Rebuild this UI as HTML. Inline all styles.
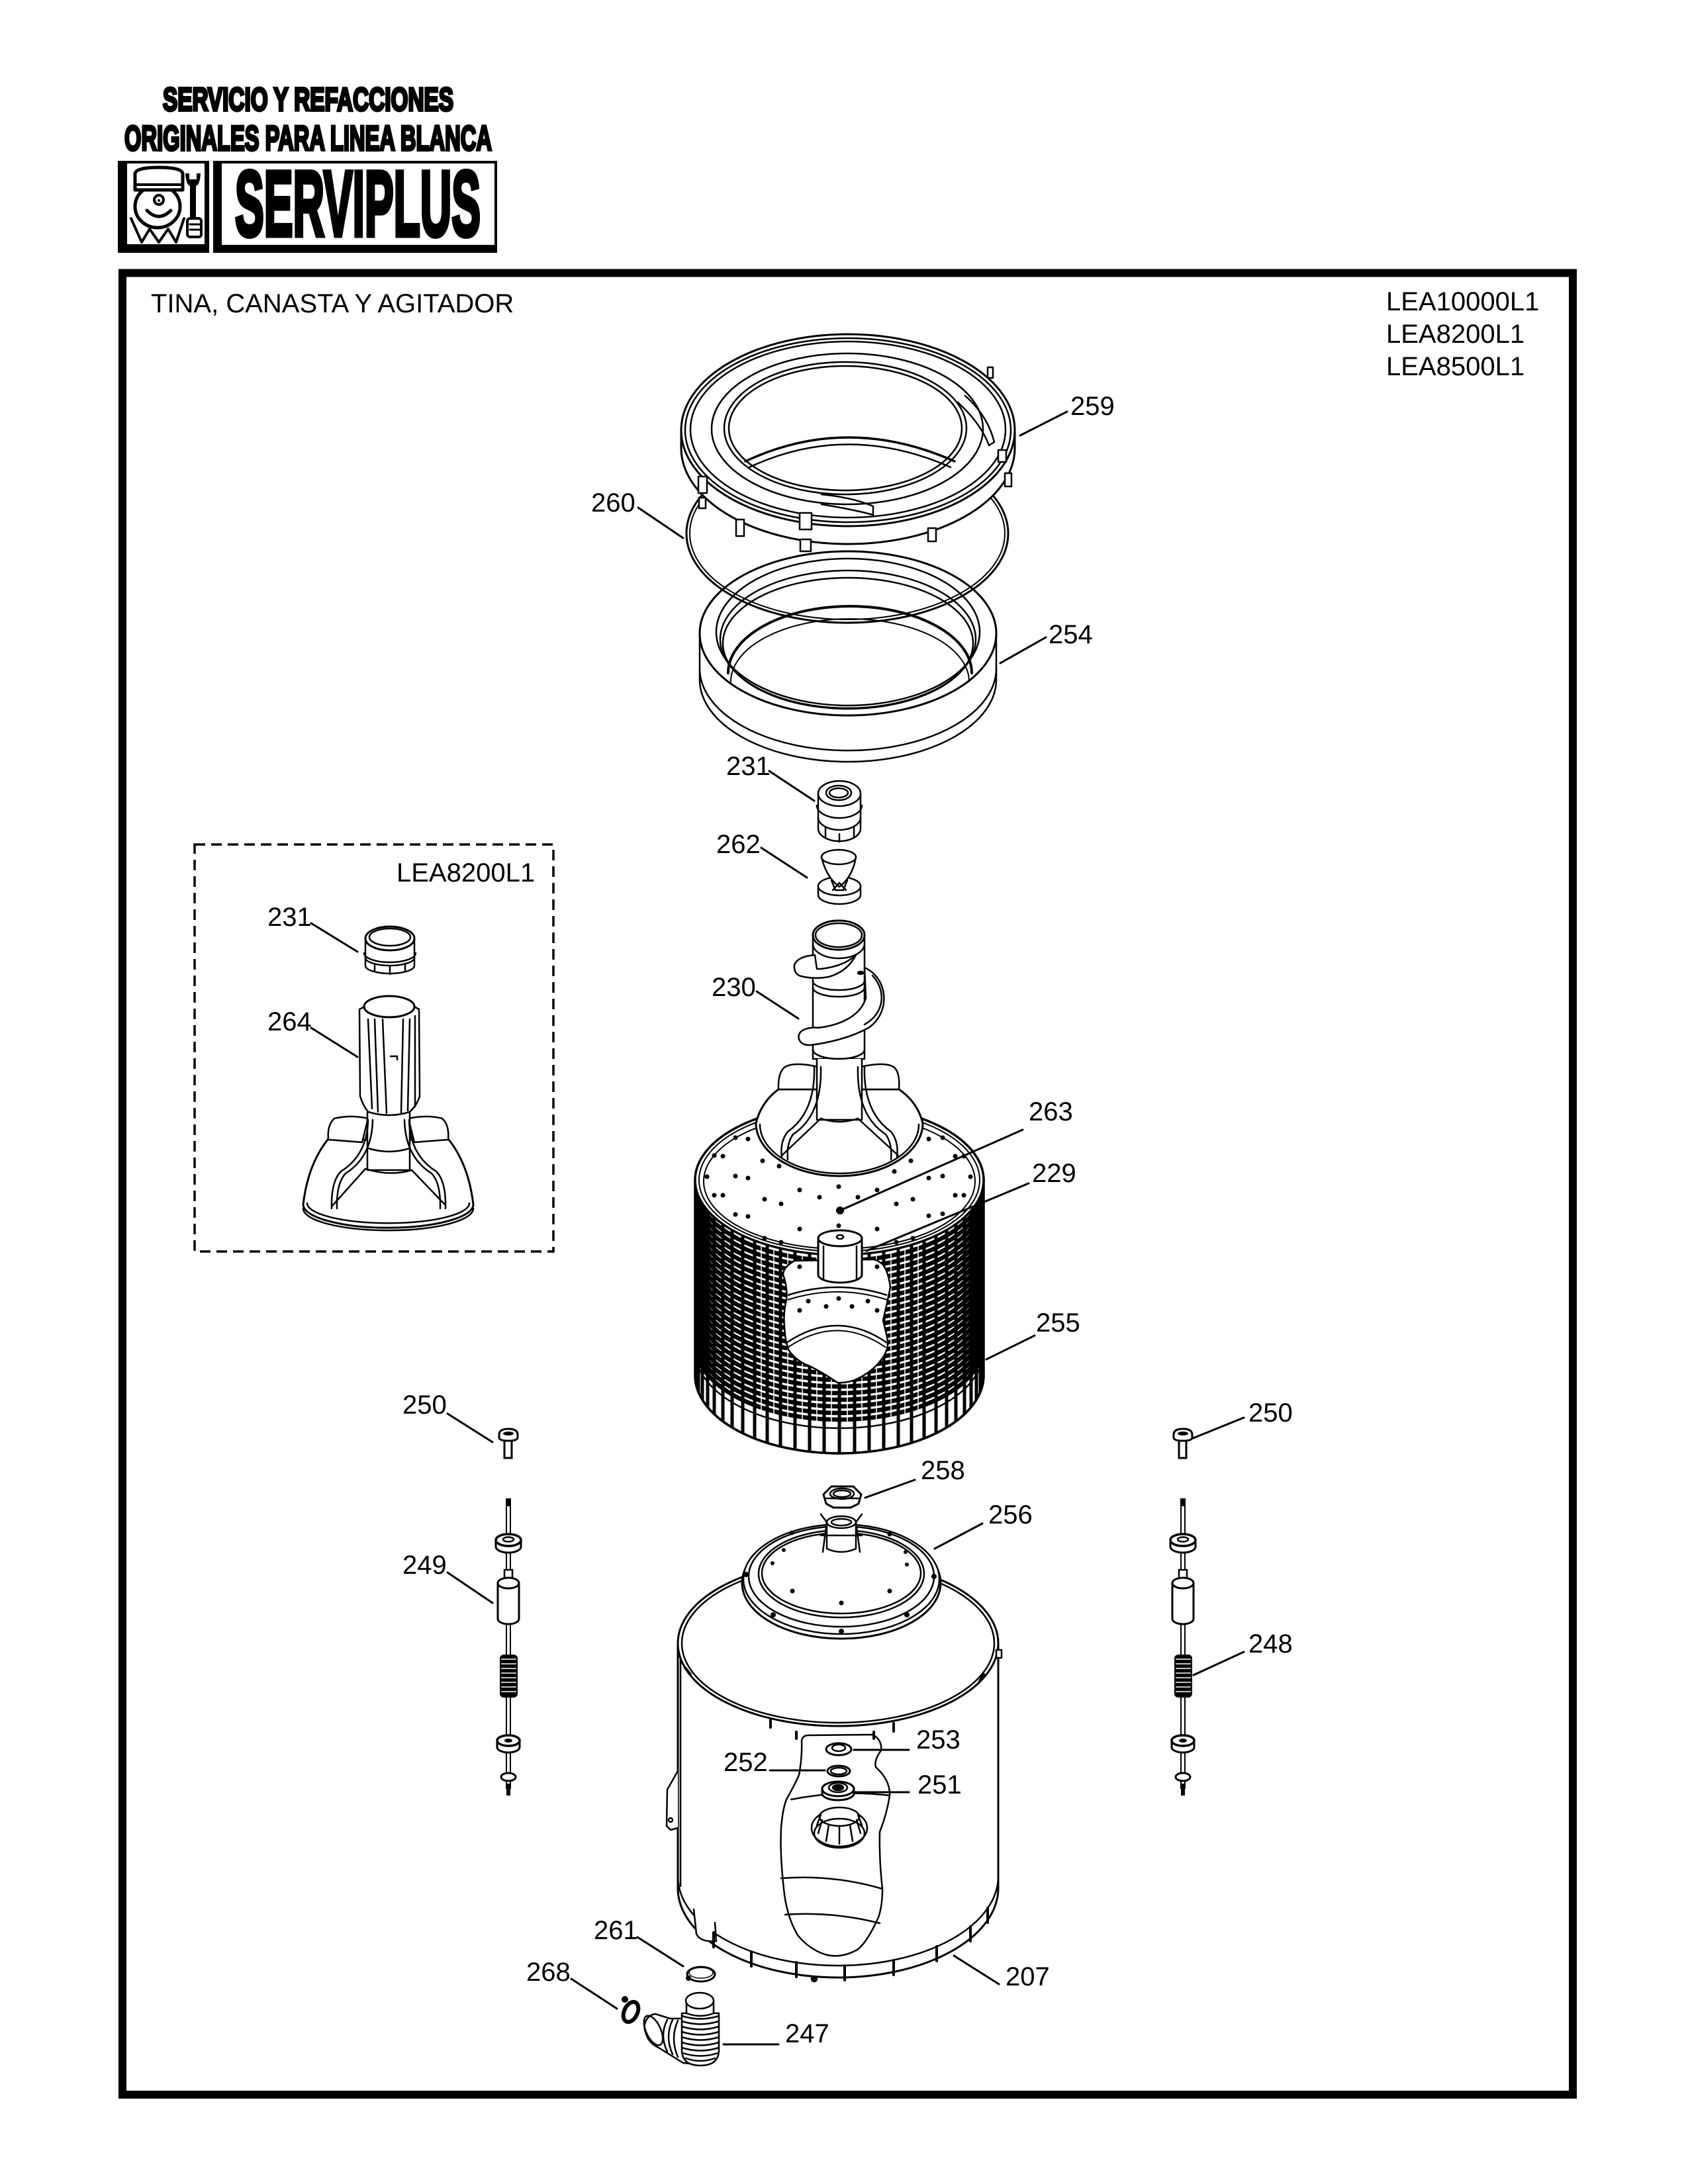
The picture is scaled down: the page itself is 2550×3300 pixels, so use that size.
<!DOCTYPE html>
<html><head><meta charset="utf-8"><style>
html,body{margin:0;padding:0;background:#fff;}
svg{display:block;}
</style></head><body>
<svg xmlns="http://www.w3.org/2000/svg" width="2550" height="3300" viewBox="0 0 2550 3300">
<defs>
<clipPath id="bk"><path d="M1050 1783 A218 113 0 0 0 1486 1783 L1486 2078 A218 118 0 0 1 1050 2078 Z"/></clipPath>
</defs>
<rect width="2550" height="3300" fill="#fff"/>

<!-- HEADER -->
<g font-family="'Liberation Sans', Arial, sans-serif" font-weight="bold" fill="#000" stroke="#000">
<text x="246" y="167" font-size="49" textLength="439" lengthAdjust="spacingAndGlyphs" stroke-width="4">SERVICIO Y REFACCIONES</text>
<text x="188" y="227" font-size="53" textLength="555" lengthAdjust="spacingAndGlyphs" stroke-width="4">ORIGINALES PARA LINEA BLANCA</text>
</g>
<rect x="178" y="243" width="138" height="139" fill="#000"/>
<rect x="192" y="247" width="117" height="122" fill="#fff"/>
<rect x="322" y="243" width="429" height="139" fill="#000"/>
<rect x="335" y="247" width="412" height="123" fill="#fff"/>
<text x="355" y="356" font-family="'Liberation Sans', Arial, sans-serif" font-weight="bold" font-size="140" textLength="371" lengthAdjust="spacingAndGlyphs" fill="#000" stroke="#000" stroke-width="7">SERVIPLUS</text>
<!-- face icon -->
<g stroke="#000" fill="none" stroke-width="5" stroke-linejoin="round" stroke-linecap="round">
<ellipse cx="238" cy="312" rx="34" ry="32" fill="#fff"/>
<path d="M204 287 L204 262 Q206 253 240 253 Q274 253 276 262 L276 287 Z" fill="#fff"/>
<path d="M204 279 L276 279" stroke-width="4"/>
<circle cx="240" cy="302" r="7" stroke-width="4"/>
<circle cx="240" cy="303" r="2" fill="#000" stroke="none"/>
<path d="M222 318 Q240 336 258 318"/>
<path d="M198 330 L214 366 L226 346 L240 366 L254 346 L266 366 L278 330" stroke-width="4"/>
<rect x="283" y="330" width="21" height="28" rx="4" fill="#fff" stroke-width="4"/>
<path d="M287 339 H303 M287 347 H303" stroke-width="3"/>
</g>
<path d="M280 262 Q281 279 287 281 L287 330 L296 330 L296 281 Q302 279 303 262 L297 262 L297 271 L286 271 L286 262 Z" fill="#000"/>

<!-- FRAME -->
<rect x="185" y="412.5" width="2191" height="2752.5" fill="none" stroke="#000" stroke-width="12"/>

<g font-family="'Liberation Sans', Arial, sans-serif" font-size="40" fill="#000">
<text x="228" y="472">TINA, CANASTA Y AGITADOR</text>
<text x="2094" y="469">LEA10000L1</text>
<text x="2094" y="518">LEA8200L1</text>
<text x="2094" y="567">LEA8500L1</text>
</g>

<g stroke="#000" stroke-width="2.5" fill="none" stroke-linejoin="round" stroke-linecap="round">

<!-- RING 254 -->
<path d="M1057 957 L1057 1027 A224 124 0 0 0 1505 1027 L1505 957 Z" fill="#fff"/>
<path d="M1057 1010 A224 124 0 0 0 1505 1010"/>
<ellipse cx="1281" cy="957" rx="224" ry="124" fill="#fff" stroke-width="3"/>
<ellipse cx="1281" cy="955" rx="199" ry="111" fill="#fff"/>
<ellipse cx="1281" cy="966" rx="193" ry="104"/>
<ellipse cx="1281" cy="972" rx="189" ry="99"/>
<path d="M1100 1017 A184 101 0 0 1 1468 1017" stroke-width="4"/>
<path d="M1104 1030 A180 95 0 0 1 1464 1030" stroke-width="2"/>

<!-- GASKET 260 -->
<ellipse cx="1280" cy="806" rx="243" ry="135" stroke-width="3"/>
<ellipse cx="1280" cy="806" rx="238" ry="130" stroke-width="2"/>

<!-- RING 259 -->
<path d="M1029 650 L1029 677 A252 145 0 0 0 1533 677 L1533 650 Z" fill="#fff" stroke-width="3"/>
<ellipse cx="1281" cy="650" rx="252" ry="145" fill="#fff" stroke-width="3"/>
<ellipse cx="1281" cy="650" rx="246" ry="139"/>
<ellipse cx="1281" cy="649" rx="238" ry="133"/>
<ellipse cx="1280" cy="648" rx="205" ry="114"/>
<ellipse cx="1277" cy="647" rx="183" ry="100" fill="#fff"/>
<ellipse cx="1277" cy="647" rx="176" ry="94"/>
<path d="M1126 697 Q1280 625 1442 697" stroke-width="3.5"/>
<path d="M1132 706 Q1280 637 1436 706"/>
<path d="M1447 608 Q1482 640 1494 673 L1502 668 Q1492 628 1458 598"/>
<path d="M1241 747 Q1290 752 1319 765 L1319 778 Q1290 770 1241 762"/>
<g fill="#fff">
<rect x="1055" y="720" width="13" height="25"/>
<rect x="1056" y="752" width="10" height="16"/>
<rect x="1112" y="785" width="12" height="25"/>
<rect x="1208" y="775" width="18" height="25"/>
<rect x="1209" y="815" width="16" height="18"/>
<rect x="1402" y="798" width="12" height="20"/>
<rect x="1508" y="680" width="12" height="18"/>
<rect x="1518" y="715" width="10" height="20"/>
<rect x="1492" y="555" width="8" height="16"/>
</g>

<!-- 231 cap -->
<path d="M1236 1199 L1236 1252 A32 19 0 0 0 1300 1252 L1300 1199 Z" fill="#fff"/>
<ellipse cx="1268" cy="1199" rx="32" ry="19" fill="#fff"/>
<ellipse cx="1267" cy="1198" rx="19" ry="11"/>
<ellipse cx="1267" cy="1198" rx="14" ry="7"/>
<path d="M1234 1217 A34 19 0 0 0 1302 1217"/>
<path d="M1236 1235 A32 19 0 0 0 1300 1235"/>
<path d="M1268 1260 V1272 M1247 1250 V1266 M1290 1250 V1266"/>

<!-- 262 -->
<path d="M1236 1339 L1236 1352 A32 14 0 0 0 1300 1352 L1300 1339 Z" fill="#fff"/>
<ellipse cx="1268" cy="1339" rx="32" ry="14" fill="#fff"/>
<path d="M1241 1295 Q1248 1325 1268 1340 Q1288 1325 1293 1295" fill="#fff"/>
<ellipse cx="1267" cy="1295" rx="26" ry="11" fill="#fff"/>
<path d="M1256 1330 L1262 1345 L1274 1345 L1280 1330 M1258 1345 L1268 1334 L1278 1345"/>

<!-- 230 agitator -->
<path d="M1228 1413 L1228 1600 L1306 1600 L1306 1413" fill="#fff"/>
<ellipse cx="1267" cy="1413" rx="39" ry="22" fill="#fff" stroke-width="3"/>
<ellipse cx="1267" cy="1413" rx="35" ry="18"/>
<path d="M1228 1426 A39 22 0 0 0 1306 1426"/>
<path d="M1228 1482 A39 14 0 0 0 1306 1482"/>
<path d="M1228 1492 A39 14 0 0 0 1306 1492"/>
<path d="M1231 1443 Q1205 1445 1200 1458 Q1199 1472 1210 1475 Q1230 1480 1252 1476 Q1280 1468 1293 1443 Q1275 1460 1240 1464 L1234 1464 Z" fill="#fff"/>
<path d="M1306 1462 C1342 1478 1346 1530 1312 1553 C1285 1568 1250 1576 1225 1579 C1205 1581 1201 1562 1214 1556 C1226 1551 1236 1553 1236 1553 C1270 1549 1300 1535 1308 1508 Z" fill="#fff"/>
<path d="M1318 1474 C1338 1495 1338 1530 1306 1548"/>
<ellipse cx="1300" cy="1470" rx="4" ry="2" fill="#000"/>
<path d="M1228 1586 A39 14 0 0 0 1306 1586"/>
</g>

<!-- BASKET 255 -->
<g stroke="#000" fill="none">
<path d="M1050 1783 L1050 2078 A218 118 0 0 0 1486 2078 L1486 1783 Z" fill="#fff" stroke-width="3.5"/>
<g clip-path="url(#bk)">
<path stroke-width="6.5" d="M1050 1790A218 115 0 0 0 1486 1790M1050 1800A218 115 0 0 0 1486 1800M1050 1810A218 115 0 0 0 1486 1810M1050 1820A218 115 0 0 0 1486 1820M1050 1830A218 115 0 0 0 1486 1830M1050 1840A218 115 0 0 0 1486 1840M1050 1850A218 115 0 0 0 1486 1850M1050 1860A218 115 0 0 0 1486 1860M1050 1870A218 115 0 0 0 1486 1870M1050 1880A218 115 0 0 0 1486 1880M1050 1890A218 115 0 0 0 1486 1890M1050 1900A218 115 0 0 0 1486 1900M1050 1910A218 115 0 0 0 1486 1910M1050 1920A218 115 0 0 0 1486 1920M1050 1930A218 115 0 0 0 1486 1930M1050 1940A218 115 0 0 0 1486 1940M1050 1950A218 115 0 0 0 1486 1950M1050 1960A218 115 0 0 0 1486 1960M1050 1970A218 115 0 0 0 1486 1970M1050 1980A218 115 0 0 0 1486 1980M1050 1990A218 115 0 0 0 1486 1990M1050 2000A218 115 0 0 0 1486 2000M1050 2010A218 115 0 0 0 1486 2010M1050 2020A218 115 0 0 0 1486 2020M1050 2030A218 115 0 0 0 1486 2030"/>
<path stroke-width="5" d="M1051 1700V2200M1055 1700V2200M1061 1700V2200M1069 1700V2200M1079 1700V2200M1092 1700V2200M1106 1700V2200M1122 1700V2200M1140 1700V2200M1159 1700V2200M1179 1700V2200M1201 1700V2200M1223 1700V2200M1245 1700V2200M1268 1700V2200M1291 1700V2200M1313 1700V2200M1335 1700V2200M1357 1700V2200M1377 1700V2200M1396 1700V2200M1414 1700V2200M1430 1700V2200M1444 1700V2200M1457 1700V2200M1467 1700V2200M1475 1700V2200M1481 1700V2200M1485 1700V2200"/>
<path stroke="#fff" stroke-width="1.5" d="M1150 1700V2200M1169 1700V2200M1190 1700V2200M1212 1700V2200M1234 1700V2200M1256 1700V2200M1280 1700V2200M1302 1700V2200M1324 1700V2200M1346 1700V2200M1367 1700V2200M1387 1700V2200"/>
<path stroke-width="3" d="M1050 2155A218 118 0 0 0 1486 2155M1050 2168A218 118 0 0 0 1486 2168"/>
</g>
<path d="M1050 2040 A218 118 0 0 0 1486 2040" stroke-width="2.5"/>
<path d="M1050 2078 A218 118 0 0 0 1486 2078" stroke-width="3.5"/>
<ellipse cx="1268" cy="1783" rx="218" ry="113" fill="#fff" stroke-width="3.5"/>
<ellipse cx="1268" cy="1783" rx="212" ry="108" stroke-width="2"/>
<ellipse cx="1268" cy="1785" rx="205" ry="102" stroke-width="2"/>
<!-- window -->
<path d="M1200 1905 Q1183 1915 1183 1926 Q1190 1945 1188 1964 Q1183 1985 1185 2003 Q1186 2028 1192 2041 Q1205 2058 1223 2064 Q1245 2075 1265 2089 Q1282 2090 1296 2083 Q1318 2072 1330 2056 Q1342 2042 1341 2026 Q1338 2010 1334 1995 Q1340 1970 1345 1945 Q1342 1922 1334 1911 Q1325 1903 1318 1903 Z" fill="#fff" stroke-width="2.5"/>
<path d="M1190 1957 Q1265 1933 1340 1957" stroke-width="2.5"/>
<path d="M1190 1964 Q1265 1940 1340 1964" stroke-width="2"/>
<path d="M1188 2029 Q1265 1977 1340 2029" stroke-width="2.5"/>
<path d="M1190 2036 Q1265 1985 1338 2036" stroke-width="2"/>
</g>
<g fill="#000">
<circle cx="1111" cy="1719" r="3.5"/><circle cx="1130" cy="1721" r="3.5"/><circle cx="1079" cy="1746" r="3.5"/><circle cx="1092" cy="1747" r="3.5"/><circle cx="1152" cy="1754" r="3.5"/><circle cx="1177" cy="1762" r="3.5"/><circle cx="1068" cy="1778" r="3.5"/><circle cx="1111" cy="1777" r="3.5"/><circle cx="1130" cy="1780" r="3.5"/><circle cx="1208" cy="1798" r="3.5"/><circle cx="1238" cy="1809" r="3.5"/><circle cx="1267" cy="1793" r="3.5"/><circle cx="1296" cy="1809" r="3.5"/><circle cx="1325" cy="1798" r="3.5"/><circle cx="1351" cy="1770" r="3.5"/><circle cx="1376" cy="1754" r="3.5"/><circle cx="1403" cy="1721" r="3.5"/><circle cx="1424" cy="1719" r="3.5"/><circle cx="1443" cy="1747" r="3.5"/><circle cx="1456" cy="1747" r="3.5"/><circle cx="1403" cy="1780" r="3.5"/><circle cx="1424" cy="1777" r="3.5"/><circle cx="1466" cy="1778" r="3.5"/><circle cx="1443" cy="1806" r="3.5"/><circle cx="1456" cy="1806" r="3.5"/><circle cx="1379" cy="1812" r="3.5"/><circle cx="1354" cy="1819" r="3.5"/><circle cx="1403" cy="1837" r="3.5"/><circle cx="1424" cy="1834" r="3.5"/><circle cx="1079" cy="1806" r="3.5"/><circle cx="1092" cy="1806" r="3.5"/><circle cx="1155" cy="1812" r="3.5"/><circle cx="1180" cy="1819" r="3.5"/><circle cx="1111" cy="1835" r="3.5"/><circle cx="1130" cy="1838" r="3.5"/><circle cx="1267" cy="1852" r="3.5"/><circle cx="1208" cy="1857" r="3.5"/><circle cx="1325" cy="1857" r="3.5"/><circle cx="1155" cy="1871" r="3.5"/><circle cx="1180" cy="1877" r="3.5"/><circle cx="1354" cy="1877" r="3.5"/><circle cx="1379" cy="1871" r="3.5"/><circle cx="1208" cy="1914" r="3.5"/><circle cx="1325" cy="1914" r="3.5"/>
<circle cx="1269" cy="1829" r="6"/>
<circle cx="1221" cy="1966" r="3.5"/><circle cx="1267" cy="1962" r="3.5"/><circle cx="1311" cy="1966" r="3.5"/><circle cx="1208" cy="1980" r="3.5"/><circle cx="1248" cy="1974" r="3.5"/><circle cx="1287" cy="1974" r="3.5"/><circle cx="1325" cy="1980" r="3.5"/>
</g>
<!-- agitator base over basket top -->
<g stroke="#000" stroke-width="2.5" fill="none" stroke-linejoin="round" stroke-linecap="round">
<path d="M1176 1646 Q1150 1665 1142 1697 A126 80 0 0 0 1394 1697 Q1386 1665 1358 1646 Z" fill="#fff" stroke-width="3"/>
<path d="M1148 1699 A120 74 0 0 0 1388 1699"/>
<path d="M1236 1612 Q1200 1604 1186 1612 Q1175 1620 1176 1646 L1234 1646 Z" fill="#fff"/>
<path d="M1300 1612 Q1336 1604 1350 1612 Q1360 1620 1358 1646 L1302 1646 Z" fill="#fff"/>
<path d="M1234 1600 L1234 1692 L1302 1692 L1302 1600" fill="#fff"/>
<path d="M1228 1586 A39 14 0 0 0 1306 1586"/>
<path d="M1240 1690 L1181 1746 M1296 1690 L1357 1746"/>
<path d="M1240 1690 Q1268 1700 1296 1690"/>
<path d="M1230 1612 Q1232 1680 1190 1710 Q1178 1725 1181 1748"/>
<path d="M1240 1612 Q1242 1685 1198 1714 Q1188 1728 1190 1752"/>
<path d="M1306 1612 Q1304 1680 1346 1710 Q1358 1725 1355 1748"/>
<path d="M1296 1612 Q1294 1685 1338 1714 Q1348 1728 1346 1752"/>
<!-- hub 229 -->
<path d="M1236 1871 L1236 1926 A33 12 0 0 0 1302 1926 L1302 1871 Z" fill="#fff" stroke-width="3"/>
<ellipse cx="1269" cy="1871" rx="33" ry="12" fill="#fff" stroke-width="3"/>
<ellipse cx="1269" cy="1869" rx="5" ry="3"/>
<path d="M1244 1883 V1932 M1294 1883 V1932"/>
</g>

<!-- TUB 256 / 207 -->
<g stroke="#000" stroke-width="2.5" fill="none" stroke-linejoin="round" stroke-linecap="round">
<path d="M1024 2483 L1024 2853 A242 135 0 0 0 1508 2853 L1508 2483 Z" fill="#fff" stroke-width="3"/>
<path d="M1028 2490 L1028 2850"/>
<path d="M1024 2835 A242 135 0 0 0 1508 2835"/>
<ellipse cx="1266" cy="2483" rx="242" ry="125" fill="#fff" stroke-width="3"/>
<ellipse cx="1266" cy="2483" rx="236" ry="120"/>
<path d="M1048 2885 L1052 2922 Q1058 2935 1082 2933 L1080 2905" fill="#fff"/>
<g stroke-width="4">
<path d="M1078 2920 v22 M1135 2949 v22 M1203 2965 v22 M1276 2970 v22 M1350 2962 v22 M1415 2941 v22 M1466 2911 v22 M1492 2883 v22"/>
</g>
<circle cx="1230" cy="2990" r="4" fill="#000"/>
<path d="M1164 2598 v12 M1350 2604 v12 M1035 2520 l8 10 M1486 2530 l-6 10 M1203 2617 v10 M1320 2617 v10" stroke-width="4"/>
<rect x="1505" y="2493" width="8" height="12" fill="#fff"/>
<!-- bracket -->
<path d="M1024 2676 L1008 2704 L1007 2759 L1013 2765 L1024 2762" fill="#fff"/>
<circle cx="1013" cy="2750" r="3"/>
<!-- window -->
<path d="M1211 2630 Q1213 2622 1221 2622 L1319 2621 Q1333 2630 1331 2645 Q1320 2660 1323 2670 Q1345 2690 1344 2713 Q1340 2740 1329 2768 Q1328 2810 1333 2854 Q1333 2880 1327 2897 Q1310 2935 1295 2946 Q1270 2960 1246 2953 Q1222 2945 1205 2924 Q1188 2895 1184 2854 Q1178 2800 1180 2762 Q1182 2735 1188 2719 Q1200 2698 1207 2682 Q1212 2655 1211 2630 Z"/>
<path d="M1195 2719 Q1270 2704 1344 2713"/>
<path d="M1180 2838 Q1258 2832 1333 2854"/>
<path d="M1186 2893 Q1258 2888 1329 2906"/>
<ellipse cx="1268" cy="2762" rx="42" ry="28" fill="#fff"/>
<ellipse cx="1268" cy="2745" rx="30" ry="14" fill="#fff"/>
<path d="M1242 2750 L1236 2770 M1252 2757 L1248 2782 M1268 2759 L1268 2786 M1284 2757 L1288 2782 M1294 2750 L1300 2770 M1240 2742 L1234 2758 M1296 2742 L1302 2758"/>
<ellipse cx="1268" cy="2770" rx="38" ry="22"/>
<!-- 253 252 251 -->
<ellipse cx="1267" cy="2643" rx="19" ry="9" fill="#fff" stroke-width="3"/>
<ellipse cx="1267" cy="2641" rx="10" ry="5"/>
<ellipse cx="1267" cy="2676" rx="17" ry="8" fill="#fff" stroke-width="3"/>
<ellipse cx="1267" cy="2676" rx="12" ry="5"/>
<path d="M1242 2703 L1242 2710 A24 10 0 0 0 1290 2710 L1290 2703" fill="#fff" stroke-width="3"/>
<ellipse cx="1266" cy="2703" rx="24" ry="11" fill="#fff" stroke-width="3"/>
<ellipse cx="1266" cy="2701" rx="14" ry="7"/>
<ellipse cx="1266" cy="2701" rx="8" ry="4" fill="#000"/>
<!-- lid 256 -->
<ellipse cx="1271" cy="2392" rx="150" ry="84" fill="#fff" stroke-width="3"/>
<ellipse cx="1271" cy="2386" rx="148" ry="83" fill="#fff"/>
<ellipse cx="1271" cy="2382" rx="140" ry="76"/>
<ellipse cx="1271" cy="2378" rx="125" ry="66"/>
<ellipse cx="1271" cy="2377" rx="120" ry="61"/>
<!-- hub on lid -->
<path d="M1249 2300 L1249 2340 Q1271 2350 1293 2340 L1293 2300" fill="#fff"/>
<ellipse cx="1271" cy="2300" rx="22" ry="9" fill="#fff"/>
<ellipse cx="1271" cy="2300" rx="15" ry="5"/>
<path d="M1240 2288 L1249 2300 L1243 2345 M1302 2288 L1293 2300 L1299 2345 M1240 2320 L1302 2320"/>
<!-- nut 258 -->
<path d="M1244 2258 L1256 2246 L1289 2246 L1301 2258 L1297 2272 L1285 2278 L1259 2278 L1248 2272 Z" fill="#fff" stroke-width="3"/>
<ellipse cx="1272" cy="2257" rx="18" ry="8"/>
<ellipse cx="1272" cy="2257" rx="13" ry="5"/>
<path d="M1248 2264 L1297 2264"/>
</g>
<g fill="#000">
<circle cx="1196" cy="2316" r="3.5"/><circle cx="1344" cy="2318" r="3.5"/><circle cx="1368" cy="2345" r="3"/><circle cx="1370" cy="2364" r="3"/><circle cx="1197" cy="2404" r="3.5"/><circle cx="1344" cy="2404" r="3.5"/><circle cx="1271" cy="2422" r="3.5"/><circle cx="1167" cy="2362" r="3"/><circle cx="1184" cy="2342" r="3"/><circle cx="1127" cy="2379" r="4"/><circle cx="1411" cy="2382" r="4"/><circle cx="1168" cy="2440" r="4"/><circle cx="1370" cy="2440" r="4"/><circle cx="1271" cy="2465" r="4"/>
</g>

<!-- HOSE 247, clamps -->
<g stroke="#000" stroke-width="2.5" fill="none" stroke-linejoin="round" stroke-linecap="round">
<path d="M990 3043 C976 3045 971 3060 975 3070 C978 3082 984 3089 995 3094 L1032 3117 L1058 3120 L1058 3050 L1012 3050 Z" fill="#fff"/>
<ellipse cx="987" cy="3068" rx="11" ry="24" transform="rotate(-25 987 3068)"/>
<path d="M1008 3052 Q996 3075 1008 3100 M1016 3052 Q1004 3077 1016 3104 M1024 3053 Q1012 3080 1024 3108"/>
<path d="M1030 3042 L1030 3100 Q1032 3121 1058 3121 Q1084 3121 1086 3100 L1086 3042 Z" fill="#fff"/>
<path d="M1030 3046 Q1058 3055 1086 3046 M1030 3054 Q1058 3063 1086 3054 M1030 3062 Q1058 3071 1086 3062 M1030 3070 Q1058 3079 1086 3070 M1030 3078 Q1058 3087 1086 3078 M1030 3086 Q1058 3095 1086 3086 M1030 3094 Q1058 3103 1086 3094 M1031 3102 Q1058 3111 1085 3102 M1036 3110 Q1058 3118 1080 3110"/>
<path d="M1037 3023 L1037 3042 Q1058 3050 1078 3042 L1078 3023 Z" fill="#fff"/>
<ellipse cx="1057" cy="3023" rx="21" ry="12" fill="#fff"/>
<ellipse cx="1059" cy="2983" rx="21" ry="11" stroke-width="3"/>
<ellipse cx="1059" cy="2981" rx="18" ry="8" stroke-width="1.5"/>
<ellipse cx="953" cy="3040" rx="10" ry="16" transform="rotate(25 953 3040)" stroke-width="6"/>
</g>
<circle cx="1040" cy="2989" r="4" fill="#000"/>
<circle cx="944" cy="3021" r="5" fill="#000"/>

<!-- RODS -->
<g id="rod" stroke="#000" stroke-width="2.5" fill="none">
<path d="M754 2168 Q754 2159 768 2159 Q782 2159 782 2168 L782 2172 Q782 2177 768 2177 Q754 2177 754 2172 Z" fill="#fff" stroke-width="3"/>
<ellipse cx="768" cy="2166" rx="8" ry="3" fill="#000" stroke="none"/>
<rect x="762" y="2177" width="11" height="26" fill="#fff" stroke-width="3"/>
<rect x="765" y="2272" width="6" height="430" fill="#fff" stroke-width="2"/>
<rect x="764" y="2264" width="8" height="12" fill="#000" stroke="none"/>
<path d="M749 2327 L749 2337 A19 9 0 0 0 787 2337 L787 2327 Z" fill="#fff" stroke-width="3"/>
<ellipse cx="768" cy="2327" rx="19" ry="9" fill="#fff" stroke-width="3.5"/>
<ellipse cx="768" cy="2326" rx="8" ry="3.5" fill="#fff" stroke-width="2.5"/>
<rect x="762" y="2372" width="12" height="16" fill="#fff"/>
<path d="M752 2392 L752 2446 A16 8 0 0 0 784 2446 L784 2392 Z" fill="#fff" stroke-width="3"/>
<ellipse cx="768" cy="2392" rx="16" ry="8" fill="#fff" stroke-width="3"/>
<rect x="755" y="2500" width="27" height="65" rx="6" fill="#000" stroke="none"/>
<path d="M757 2507 H780 M757 2514 H780 M757 2521 H780 M757 2528 H780 M757 2535 H780 M757 2542 H780 M757 2549 H780 M757 2556 H780" stroke="#fff" stroke-width="1.5"/>
<path d="M751 2630 L751 2640 A17 8 0 0 0 785 2640 L785 2630 Z" fill="#fff" stroke-width="3"/>
<ellipse cx="768" cy="2630" rx="17" ry="8" fill="#fff" stroke-width="3.5"/>
<ellipse cx="768" cy="2630" rx="6" ry="3" fill="#000" stroke="none"/>
<ellipse cx="768" cy="2685" rx="11" ry="6" fill="#fff" stroke-width="3"/>
<rect x="765" y="2695" width="6" height="18" fill="#000" stroke="none"/>
</g>
<use href="#rod" transform="translate(1019,0)"/>

<!-- DASHED BOX -->
<rect x="294" y="1276" width="542" height="615" fill="none" stroke="#000" stroke-width="3.5" stroke-dasharray="16 9"/>
<g stroke="#000" stroke-width="2.5" fill="none" stroke-linejoin="round" stroke-linecap="round">
<path d="M495 1722 Q465 1760 458 1820 A128 35 0 0 0 715 1820 Q708 1760 678 1722 Z" fill="#fff" stroke-width="3"/>
<path d="M464 1818 A122 30 0 0 0 709 1818"/>
<path d="M458 1826 A128 33 0 0 0 715 1826"/>
<path d="M556 1690 Q530 1684 505 1690 Q494 1700 496 1722 L547 1726 Z" fill="#fff"/>
<path d="M617 1690 Q645 1684 668 1690 Q679 1700 677 1722 L626 1726 Z" fill="#fff"/>
<path d="M555 1680 L555 1768 L619 1768 L619 1680" fill="#fff"/>
<path d="M552 1766 L502 1822 M622 1768 L672 1820 M552 1766 Q588 1778 622 1768"/>
<path d="M556 1735 Q588 1745 619 1735"/>
<path d="M556 1692 Q555 1745 515 1770 Q500 1785 501 1826"/>
<path d="M563 1692 Q562 1748 522 1773 Q508 1788 509 1826"/>
<path d="M618 1692 Q619 1745 659 1770 Q674 1785 673 1826"/>
<path d="M611 1692 Q612 1748 652 1773 Q666 1788 665 1826"/>
<path d="M551 1521 L543 1525 L544 1656 Q548 1670 556 1680 Q588 1690 619 1680 Q630 1670 634 1656 L633 1525 L626 1521 Z" fill="#fff"/>
<ellipse cx="588" cy="1521" rx="38" ry="16" fill="#fff" stroke-width="3"/>
<path d="M556 1540 L562 1675 M566 1540 L571 1680 M578 1540 L584 1682 M609 1540 L606 1682 M619 1540 L616 1678 M627 1535 L627 1672"/>
<path d="M590 1596 L600 1596 L600 1601"/>
<path d="M552 1418 L552 1459 A37 12 0 0 0 626 1459 L626 1418 Z" fill="#fff"/>
<ellipse cx="589" cy="1418" rx="37" ry="18" fill="#fff" stroke-width="3"/>
<ellipse cx="589" cy="1416" rx="31" ry="13"/>
<path d="M550 1440 A39 14 0 0 0 628 1440 M552 1447 A37 12 0 0 0 626 1447"/>
<path d="M589 1459 V1472 M566 1456 V1468 M612 1456 V1468"/>
</g>

<!-- LEADERS -->
<g stroke="#000" stroke-width="3" stroke-linecap="round">
<line x1="1541" y1="658" x2="1612" y2="622"/>
<line x1="964" y1="767" x2="1032" y2="813"/>
<line x1="1511" y1="1002" x2="1580" y2="963"/>
<line x1="1162" y1="1165" x2="1230" y2="1210"/>
<line x1="1150" y1="1281" x2="1219" y2="1326"/>
<line x1="1143" y1="1498" x2="1206" y2="1539"/>
<line x1="1269" y1="1829" x2="1545" y2="1707"/>
<line x1="1309" y1="1890" x2="1554" y2="1788"/>
<line x1="1490" y1="2054" x2="1563" y2="2018"/>
<line x1="676" y1="2136" x2="744" y2="2179"/>
<line x1="676" y1="2376" x2="744" y2="2422"/>
<line x1="1800" y1="2174" x2="1879" y2="2142"/>
<line x1="1803" y1="2531" x2="1879" y2="2496"/>
<line x1="1307" y1="2263" x2="1382" y2="2236"/>
<line x1="1412" y1="2340" x2="1484" y2="2302"/>
<line x1="1290" y1="2644" x2="1373" y2="2644"/>
<line x1="1163" y1="2675" x2="1246" y2="2675"/>
<line x1="1292" y1="2708" x2="1373" y2="2708"/>
<line x1="963" y1="2927" x2="1032" y2="2971"/>
<line x1="863" y1="2990" x2="932" y2="3035"/>
<line x1="1441" y1="2955" x2="1509" y2="2998"/>
<line x1="1093" y1="3089" x2="1176" y2="3089"/>
<line x1="470" y1="1395" x2="540" y2="1438"/>
<line x1="470" y1="1553" x2="540" y2="1597"/>
</g>

<!-- LABELS -->
<g font-family="'Liberation Sans', Arial, sans-serif" font-size="40" fill="#000">
<text x="1617" y="627">259</text>
<text x="893" y="773">260</text>
<text x="1584" y="972">254</text>
<text x="1097" y="1171">231</text>
<text x="1082" y="1289">262</text>
<text x="1075" y="1505">230</text>
<text x="1554" y="1693">263</text>
<text x="1559" y="1786">229</text>
<text x="1565" y="2012">255</text>
<text x="608" y="2136">250</text>
<text x="608" y="2378">249</text>
<text x="1886" y="2148">250</text>
<text x="1886" y="2497">248</text>
<text x="1391" y="2235">258</text>
<text x="1493" y="2302">256</text>
<text x="1384" y="2642">253</text>
<text x="1093" y="2676">252</text>
<text x="1386" y="2710">251</text>
<text x="897" y="2930">261</text>
<text x="795" y="2993">268</text>
<text x="1519" y="3000">207</text>
<text x="1186" y="3086">247</text>
<text x="599" y="1332">LEA8200L1</text>
<text x="404" y="1399">231</text>
<text x="404" y="1557">264</text>
</g>
</svg>
</body></html>
